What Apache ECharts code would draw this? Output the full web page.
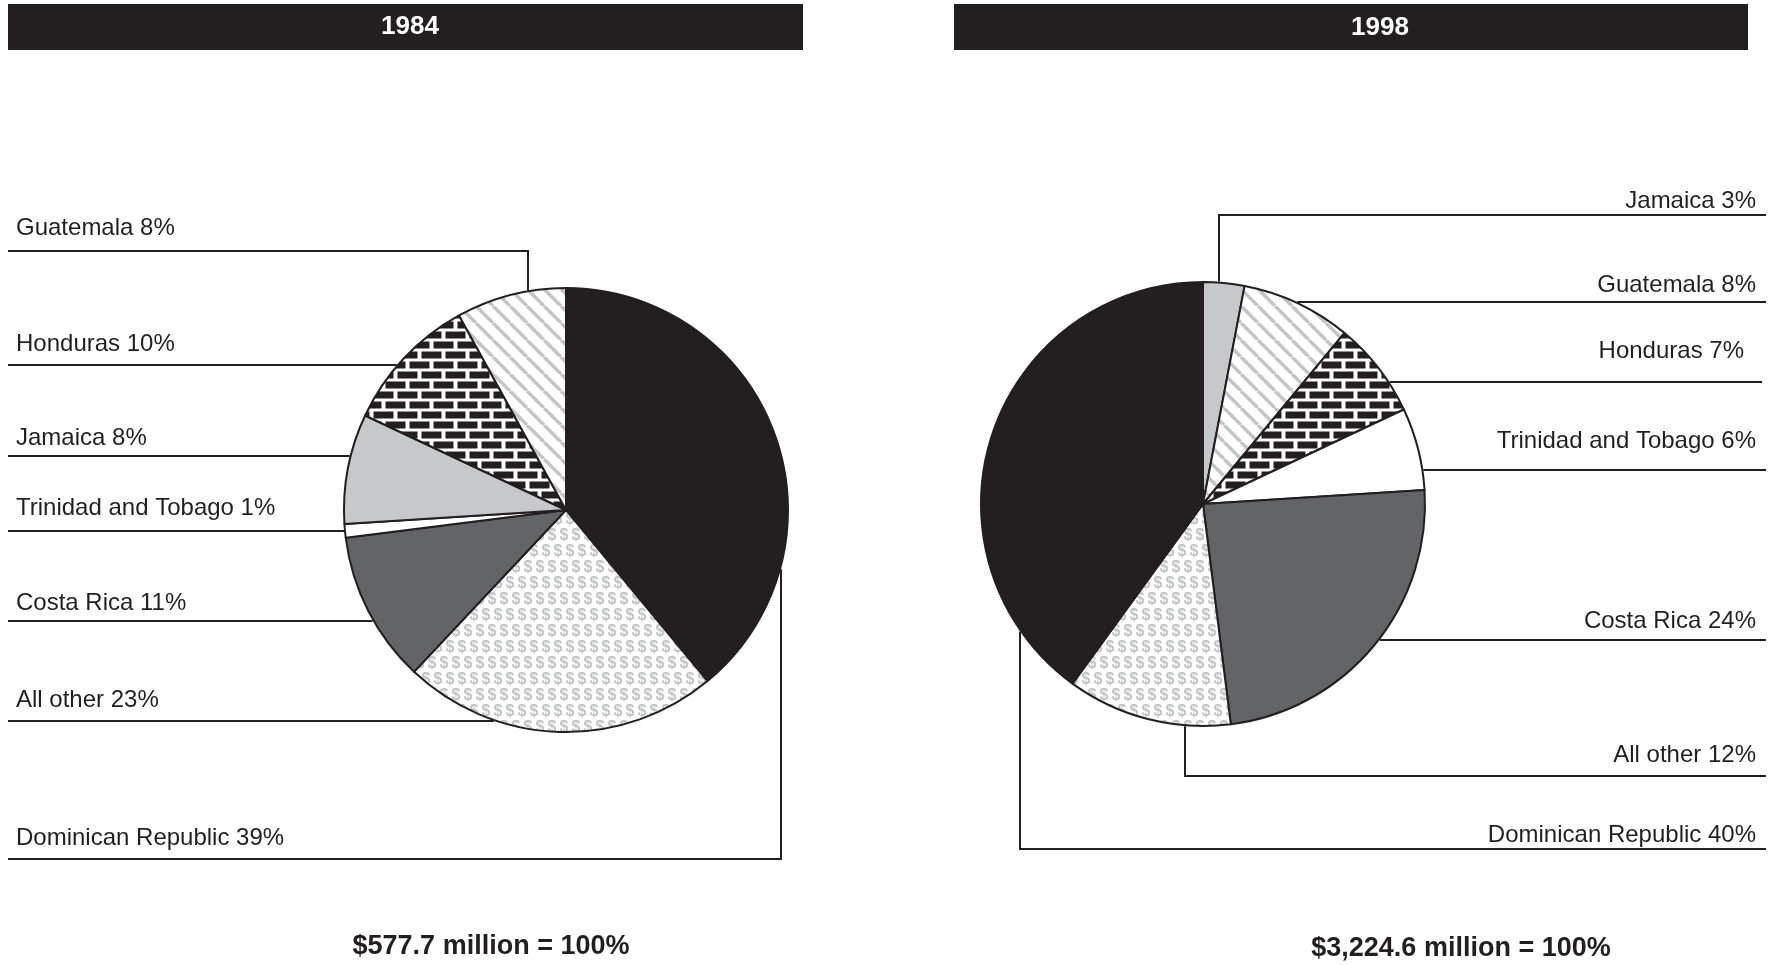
<!DOCTYPE html>
<html>
<head>
<meta charset="utf-8">
<script src="https://cdn.jsdelivr.net/npm/echarts@6/dist/echarts.min.js"></script>
<style>
  html, body { margin: 0; padding: 0; background: #fff; }
  #chart { width: 1773px; height: 965px; }
</style>
</head>
<body>
<div id="chart"></div>
<script>
// Shares of imports by supplying country, two years
const years = ['1984', '1998'];
const totals = ['$577.7 million = 100%', '$3,224.6 million = 100%'];

const countries1984 = ['Dominican Republic', 'All other', 'Costa Rica', 'Trinidad and Tobago', 'Jamaica', 'Honduras', 'Guatemala'];
const shares1984 = [39, 23, 11, 1, 8, 10, 8];

const countries1998 = ['Jamaica', 'Guatemala', 'Honduras', 'Trinidad and Tobago', 'Costa Rica', 'All other', 'Dominican Republic'];
const shares1998 = [3, 8, 7, 6, 24, 12, 40];

const INK = '#231f20';
const FONT = '"Liberation Sans", Arial, Helvetica, sans-serif';

// ---- fill patterns -------------------------------------------------------
function tile(w, h, draw) {
  const c = document.createElement('canvas');
  c.width = w; c.height = h;
  const g = c.getContext('2d');
  draw(g, w, h);
  return c;
}

const stripes = tile(17, 17, (g, w, h) => {
  g.fillStyle = '#ffffff';
  g.fillRect(0, 0, w, h);
  g.strokeStyle = '#c4c5c7';
  g.lineWidth = 3.5;
  for (let k = -1; k <= 1; k++) {
    g.beginPath();
    g.moveTo(k * w, 0);
    g.lineTo(k * w + w, h);
    g.stroke();
  }
});

const bricks = tile(24, 20, (g, w, h) => {
  g.fillStyle = '#ffffff';
  g.fillRect(0, 0, w, h);
  g.fillStyle = INK;
  g.fillRect(1.5, 1.5, 20, 7);
  g.fillRect(-10.5, 11.5, 20, 7);
  g.fillRect(13.5, 11.5, 20, 7);
});

const dollars = tile(24, 32, (g, w, h) => {
  g.fillStyle = '#ffffff';
  g.fillRect(0, 0, w, h);
  g.fillStyle = '#c2c3c5';
  g.font = 'bold 16px ' + FONT;
  g.textAlign = 'center';
  g.textBaseline = 'middle';
  [[6, 8], [18, 8], [0, 24], [12, 24], [24, 24]].forEach(([x, y]) => g.fillText('$', x, y));
});

const fills = {
  'Dominican Republic': INK,
  'All other': { image: dollars, repeat: 'repeat' },
  'Costa Rica': '#636466',
  'Trinidad and Tobago': '#ffffff',
  'Jamaica': '#c7c8ca',
  'Honduras': { image: bricks, repeat: 'repeat' },
  'Guatemala': { image: stripes, repeat: 'repeat' }
};

// ---- pie placement and label leaders ---------------------------------------
const pies = [
  { center: [566, 510], radius: 222, side: 'left', textX: 16, lineEnd: 8 },
  { center: [1203, 504], radius: 222, side: 'right', textX: 1756, lineEnd: 1766 }
];

const guides1984 = {
  'Guatemala': { textY: 228, lineY: 251, bendX: 528 },
  'Honduras': { textY: 344, lineY: 365 },
  'Jamaica': { textY: 438, lineY: 456 },
  'Trinidad and Tobago': { textY: 508, lineY: 531 },
  'Costa Rica': { textY: 603, lineY: 621 },
  'All other': { textY: 700, lineY: 721 },
  'Dominican Republic': { textY: 838, lineY: 859, bendX: 781 }
};

const guides1998 = {
  'Jamaica': { textY: 201, lineY: 215, bendX: 1219 },
  'Guatemala': { textY: 285, lineY: 302 },
  'Honduras': { textY: 351, lineY: 382, textX: 1744, lineEnd: 1762 },
  'Trinidad and Tobago': { textY: 441, lineY: 470 },
  'Costa Rica': { textY: 621, lineY: 640 },
  'All other': { textY: 755, lineY: 776, bendX: 1185 },
  'Dominican Republic': { textY: 835, lineY: 849, bendX: 1020 }
};

function leaderLayout(pie, names, guides) {
  return function (params) {
    const gd = guides[names[params.dataIndex]];
    const cx = pie.center[0], cy = pie.center[1];
    const R = pie.radius + 1;
    let a, b;
    if (gd.bendX != null) {
      const d = Math.sqrt(R * R - (gd.bendX - cx) * (gd.bendX - cx));
      a = [gd.bendX, gd.lineY < cy ? cy - d : cy + d];
      b = [gd.bendX, gd.lineY];
    } else {
      const d = Math.sqrt(R * R - (gd.lineY - cy) * (gd.lineY - cy));
      a = [pie.side === 'left' ? cx - d : cx + d, gd.lineY];
      b = a.slice();
    }
    const end = gd.lineEnd != null ? gd.lineEnd : pie.lineEnd;
    return {
      x: gd.textX != null ? gd.textX : pie.textX,
      y: gd.textY,
      align: pie.side,
      verticalAlign: 'middle',
      labelLinePoints: [a, b, [end, gd.lineY]]
    };
  };
}

function pieSeries(pie, names, values, guides) {
  return {
    type: 'pie',
    center: pie.center,
    radius: pie.radius,
    startAngle: 90,
    clockwise: true,
    avoidLabelOverlap: false,
    silent: true,
    emphasis: { disabled: true },
    itemStyle: { borderColor: INK, borderWidth: 2 },
    label: {
      show: true,
      position: 'outside',
      formatter: p => p.name + ' ' + p.value + '%',
      color: INK,
      fontSize: 24,
      fontFamily: FONT
    },
    labelLine: {
      show: true,
      smooth: false,
      length: 10,
      length2: 10,
      lineStyle: { color: INK, width: 2 }
    },
    labelLayout: leaderLayout(pie, names, guides),
    data: names.map((n, i) => ({ name: n, value: values[i], itemStyle: { color: fills[n] } }))
  };
}

const chart = echarts.init(document.getElementById('chart'), null, { renderer: 'canvas' });

chart.setOption({
  backgroundColor: '#ffffff',
  animation: false,
  series: [
    pieSeries(pies[0], countries1984, shares1984, guides1984),
    pieSeries(pies[1], countries1998, shares1998, guides1998)
  ],
  graphic: [
    { type: 'rect', shape: { x: 8, y: 4, width: 795, height: 46 }, style: { fill: INK } },
    { type: 'text', x: 410, y: 27, style: { text: years[0], fill: '#ffffff', font: 'bold 26px ' + FONT, align: 'center', verticalAlign: 'middle', textAlign: 'center', textVerticalAlign: 'middle' } },
    { type: 'rect', shape: { x: 954, y: 4, width: 794, height: 46 }, style: { fill: INK } },
    { type: 'text', x: 1380, y: 28, style: { text: years[1], fill: '#ffffff', font: 'bold 26px ' + FONT, align: 'center', verticalAlign: 'middle', textAlign: 'center', textVerticalAlign: 'middle' } },
    { type: 'text', x: 491, y: 947, style: { text: totals[0], fill: INK, font: 'bold 27px ' + FONT, align: 'center', verticalAlign: 'middle', textAlign: 'center', textVerticalAlign: 'middle' } },
    { type: 'text', x: 1461, y: 949, style: { text: totals[1], fill: INK, font: 'bold 27px ' + FONT, align: 'center', verticalAlign: 'middle', textAlign: 'center', textVerticalAlign: 'middle' } }
  ]
});
</script>
</body>
</html>
